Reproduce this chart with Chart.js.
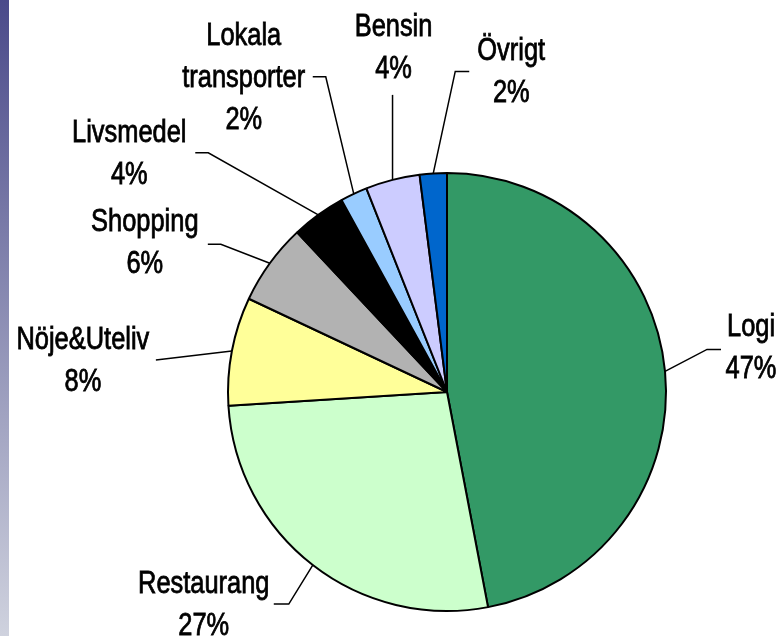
<!DOCTYPE html>
<html>
<head>
<meta charset="utf-8">
<script src="https://cdn.jsdelivr.net/npm/chart.js@4/dist/chart.umd.min.js"></script>
<style>
  html, body { margin: 0; padding: 0; background: #fff; }
  #wrap { position: relative; width: 781px; height: 636px; overflow: hidden; }
  #strip { position: absolute; left: 0; top: 0; width: 9px; height: 636px;
           background: linear-gradient(#4a4a8a, #cfd2de); }
  canvas { position: absolute; left: 0; top: 0; }
</style>
</head>
<body>
<div id="wrap">
  <div id="strip"></div>
  <canvas id="pie" width="781" height="636"></canvas>
</div>
<script>
const categories = ["Logi", "Restaurang", "Nöje&Uteliv", "Shopping", "Livsmedel", "Lokala transporter", "Bensin", "Övrigt"]
const values = [47, 27, 8, 6, 4, 2, 4, 2]
const colors = ["#339966", "#CCFFCC", "#FFFF99", "#B2B2B2", "#000000", "#99CCFF", "#CCCCFF", "#0066CC"]

// leader line + label placement, offsets from the slice's edge point
// elbow: [dx, dy], end: dx of the short horizontal piece, text: [dx, dy of first baseline]
const labelLayout = [
  { elbow: [42, -22], end: 56, text: [86, -35] },
  { elbow: [-24, 39], end: -39, text: [-109, 28] },
  { elbow: [-76, 9], end: -76, text: [-149, -2] },
  { elbow: [-49, -19], end: -62, text: [-125, -32] },
  { elbow: [-110, -62], end: -123, text: [-189, -73] },
  { elbow: [-28, -117], end: -41, text: [-110, -149] },
  { elbow: [0, -85], end: 0, text: [1, -144] },
  { elbow: [22, -102], end: 36, text: [78, -113] }
]

// narrow look: Liberation Sans squeezed horizontally
const fontFamily = '"Liberation Sans", Arial, sans-serif'
const narrow = 0.82

const pieLabels = {
  id: "pieLabels",
  afterDatasetsDraw(chart) {
    const ctx = chart.ctx
    const arcs = chart.getDatasetMeta(0).data
    const total = values.reduce((a, b) => a + b, 0)
    ctx.save()
    ctx.strokeStyle = "#000"
    ctx.fillStyle = "#000"
    ctx.font = "31px " + fontFamily
    ctx.textAlign = "center"
    ctx.textBaseline = "alphabetic"
    arcs.forEach((arc, i) => {
      const p = arc.getProps(["x", "y", "startAngle", "endAngle", "outerRadius"], true)
      const mid = (p.startAngle + p.endAngle) / 2
      const ax = p.x + Math.cos(mid) * p.outerRadius
      const ay = p.y + Math.sin(mid) * p.outerRadius
      const lay = labelLayout[i]
      ctx.lineWidth = 1.5
      ctx.beginPath()
      ctx.moveTo(ax, ay)
      ctx.lineTo(ax + lay.elbow[0], ay + lay.elbow[1])
      ctx.lineTo(ax + lay.end, ay + lay.elbow[1])
      ctx.stroke()
      const lines = categories[i].split(" ")
      lines.push(Math.round(values[i] / total * 100) + "%")
      lines.forEach((t, k) => {
        ctx.save()
        ctx.translate(ax + lay.text[0], ay + lay.text[1] + k * 42)
        ctx.scale(narrow, 1)
        ctx.fillText(t, 0, 0)
        ctx.lineWidth = 0.8
        ctx.strokeText(t, 0, 0)
        ctx.restore()
      })
    })
    ctx.restore()
  }
}

new Chart(document.getElementById("pie"), {
  type: "pie",
  data: {
    labels: categories,
    datasets: [{
      data: values,
      backgroundColor: colors,
      borderColor: "#000",
      borderWidth: 2
    }]
  },
  options: {
    responsive: false,
    animation: false,
    layout: { padding: { left: 227, right: 114, top: 172, bottom: 24 } },
    plugins: {
      legend: { display: false },
      tooltip: { enabled: false }
    }
  },
  plugins: [pieLabels]
})
</script>
</body>
</html>
